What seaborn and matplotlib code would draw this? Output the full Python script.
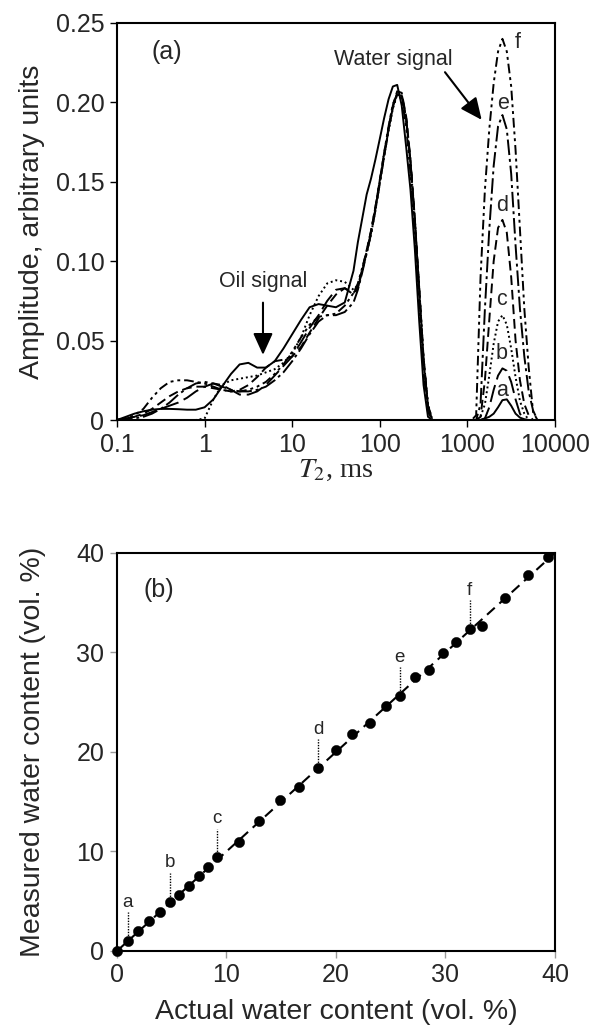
import numpy as np
import pandas as pd
import matplotlib
matplotlib.use("Agg")
import matplotlib.pyplot as plt
import seaborn as sns

# ---------------- data: (a) T2 distributions ----------------
t2_ms = [0.1, 0.126, 0.158, 0.2, 0.251, 0.316, 0.398, 0.501, 0.631, 0.794,
         1.0, 1.26, 1.58, 2.0, 2.51, 3.16, 3.98, 5.01, 6.31, 7.94,
         10, 12.6, 15.8, 20, 25.1, 31.6, 39.8, 50.1,
         56.2, 63.1, 70.8, 79.4, 89.1, 100, 112, 126, 141, 158, 178, 200,
         224, 251, 282, 316, 355, 398,
         1000, 1122, 1259, 1413, 1585, 1778, 1995, 2239, 2512, 2818, 3162,
         3548, 3981, 4467, 5012, 5623, 6310, 10000]

amp_a = [0.000, 0.002, 0.004, 0.0055, 0.0065, 0.007, 0.007, 0.0068, 0.0065, 0.0065,
         0.008, 0.013, 0.021, 0.029, 0.035, 0.036, 0.033, 0.033, 0.037, 0.045,
         0.054, 0.063, 0.071, 0.073, 0.072, 0.071, 0.074, 0.094,
         0.112, 0.127, 0.142, 0.152, 0.164, 0.177, 0.190, 0.202, 0.210, 0.211, 0.198, 0.172,
         0.145, 0.108, 0.062, 0.022, 0.002, 0.0,
         0.0, 0.0, 0.0, 0.0, 0.001, 0.002, 0.004, 0.008, 0.0125, 0.013, 0.009,
         0.004, 0.0015, 0.0005, 0.0, 0.0, 0.0, 0.0]

amp_b = [0.000, 0.001, 0.002, 0.003, 0.005, 0.007, 0.009, 0.011, 0.014, 0.018,
         0.021, 0.023, 0.022, 0.019, 0.016, 0.016, 0.018, 0.022, 0.028, 0.034,
         0.040, 0.049, 0.058, 0.066, 0.075, 0.082, 0.083, 0.079,
         0.083, 0.094, 0.106, 0.118, 0.133, 0.150, 0.166, 0.183, 0.197, 0.206, 0.205, 0.190,
         0.163, 0.126, 0.082, 0.038, 0.009, 0.0,
         0.0, 0.0, 0.0, 0.0, 0.001, 0.008, 0.019, 0.028, 0.0325, 0.031, 0.024,
         0.013, 0.004, 0.0, 0.0, 0.0, 0.0, 0.0]

amp_c = [0.0, 0.0, 0.0, 0.0, 0.0, 0.0, 0.0, 0.0, 0.0, 0.0,
         0.001, 0.013, 0.022, 0.025, 0.026, 0.027, 0.028, 0.030, 0.032, 0.036,
         0.042, 0.052, 0.066, 0.078, 0.086, 0.088, 0.087, 0.082,
         0.085, 0.094, 0.105, 0.117, 0.132, 0.149, 0.166, 0.182, 0.196, 0.205, 0.204, 0.189,
         0.162, 0.126, 0.083, 0.039, 0.010, 0.0,
         0.0, 0.0, 0.0, 0.002, 0.010, 0.028, 0.048, 0.062, 0.066, 0.060, 0.045,
         0.027, 0.012, 0.004, 0.0, 0.0, 0.0, 0.0]

amp_d = [0.000, 0.001, 0.002, 0.004, 0.007, 0.011, 0.015, 0.018, 0.020, 0.021,
         0.021, 0.020, 0.019, 0.018, 0.019, 0.022, 0.027, 0.033, 0.037, 0.038,
         0.040, 0.046, 0.055, 0.064, 0.072, 0.079, 0.083, 0.080,
         0.084, 0.095, 0.107, 0.119, 0.134, 0.151, 0.168, 0.184, 0.198, 0.207, 0.206, 0.191,
         0.164, 0.127, 0.083, 0.039, 0.009, 0.0,
         0.0, 0.0, 0.0, 0.002, 0.025, 0.063, 0.100, 0.121, 0.126, 0.118, 0.090,
         0.050, 0.025, 0.010, 0.003, 0.0, 0.0, 0.0]

amp_e = [0.000, 0.0005, 0.001, 0.002, 0.004, 0.007, 0.011, 0.016, 0.020, 0.023,
         0.024, 0.023, 0.021, 0.019, 0.018, 0.018, 0.019, 0.021, 0.025, 0.030,
         0.037, 0.045, 0.054, 0.062, 0.066, 0.066, 0.068, 0.074,
         0.082, 0.093, 0.105, 0.117, 0.132, 0.149, 0.166, 0.183, 0.197, 0.205, 0.204, 0.190,
         0.162, 0.126, 0.081, 0.037, 0.008, 0.0,
         0.0, 0.0, 0.0, 0.010, 0.070, 0.120, 0.160, 0.185, 0.192, 0.183, 0.155,
         0.110, 0.070, 0.040, 0.018, 0.006, 0.0, 0.0]

amp_f = [0.000, 0.001, 0.003, 0.007, 0.014, 0.020, 0.024, 0.025, 0.025, 0.024,
         0.023, 0.021, 0.019, 0.018, 0.018, 0.019, 0.021, 0.024, 0.029, 0.035,
         0.043, 0.052, 0.060, 0.065, 0.066, 0.067, 0.072, 0.080,
         0.086, 0.096, 0.106, 0.119, 0.134, 0.151, 0.168, 0.185, 0.199, 0.205, 0.202, 0.185,
         0.155, 0.118, 0.072, 0.030, 0.005, 0.0,
         0.0, 0.0, 0.003, 0.090, 0.145, 0.183, 0.212, 0.232, 0.240, 0.232, 0.210,
         0.170, 0.120, 0.070, 0.033, 0.005, 0.0, 0.0]

curve_ids = ["a", "b", "c", "d", "e", "f"]
curve_amps = [amp_a, amp_b, amp_c, amp_d, amp_e, amp_f]
curve_styles = ["-", (0, (9, 3)), (0, (1, 1.5)), (0, (5, 2.5)),
                (0, (8, 2, 1.5, 2)), (0, (5, 2, 1.5, 2, 1.5, 2))]
peak_labels = ["a", "b", "c", "d", "e", "f"]
peak_label_x = [2460, 2460, 2460, 2460, 2530, 3800]
peak_label_y = [0.0185, 0.042, 0.0756, 0.135, 0.1996, 0.2374]

# ---------------- data: (b) measured vs actual ----------------
actual = [0, 1.0, 1.9, 2.9, 3.9, 4.8, 5.7, 6.6, 7.5, 8.3, 9.1, 11.1, 13.0, 14.9,
          16.6, 18.4, 20.0, 21.5, 23.1, 24.6, 25.8, 27.2, 28.5, 29.8, 31.0, 32.2,
          33.3, 35.4, 37.5, 39.4]
measured = [0, 1.0, 2.0, 3.05, 3.9, 4.95, 5.6, 6.5, 7.5, 8.45, 9.4, 11.0, 13.1, 15.2,
            16.5, 18.4, 20.2, 21.8, 22.9, 24.6, 25.6, 27.5, 28.2, 29.9, 31.05, 32.35,
            32.7, 35.5, 37.8, 39.6]
marked_idx = [1, 5, 10, 15, 20, 25]
marked_txt = ["a", "b", "c", "d", "e", "f"]
parity_x = [0, 40]
parity_y = [0, 40]

# ---------------- style ----------------
sns.set_theme(style="white")
plt.rcParams["font.family"] = ["Liberation Sans", "DejaVu Sans"]
plt.rcParams["mathtext.fontset"] = "stix"
TICK_FS = 18
LABEL_FS = 20.5
NOTE_FS = 15.5

fig = plt.figure(figsize=(5.93, 10.34), dpi=100)
ax1 = fig.add_axes([0.1973, 0.5938, 0.7386, 0.3840])
ax2 = fig.add_axes([0.1973, 0.0803, 0.7386, 0.3849])

arrow_kw = dict(arrowstyle="-|>,head_length=1.1,head_width=0.5",
                color="black", lw=1.5, shrinkA=0, shrinkB=0)

# ---------------- panel (a) ----------------
for cid, amps, ls in zip(curve_ids, curve_amps, curve_styles):
    df = pd.DataFrame({"T2": t2_ms, "amp": amps})
    sns.lineplot(data=df, x="T2", y="amp", ax=ax1, color="black",
                 linewidth=1.4, linestyle=ls, sort=False, estimator=None)

ax1.set_xscale("log")
ax1.set_xlim(0.1, 10000)
ax1.set_ylim(0, 0.25)
ax1.set_xticks([0.1, 1, 10, 100, 1000, 10000])
ax1.set_xticklabels(["0.1", "1", "10", "100", "1000", "10000"])
ax1.xaxis.set_minor_locator(matplotlib.ticker.NullLocator())
ax1.set_yticks([0, 0.05, 0.10, 0.15, 0.20, 0.25])
ax1.set_yticklabels(["0", "0.05", "0.10", "0.15", "0.20", "0.25"])
ax1.set_xlabel(r"$T_2$, ms", fontsize=LABEL_FS, family="Liberation Serif", labelpad=1)
ax1.set_ylabel("Amplitude, arbitrary units", fontsize=LABEL_FS, labelpad=8)

for lab, lx, ly in zip(peak_labels, peak_label_x, peak_label_y):
    ax1.text(lx, ly, lab, fontsize=NOTE_FS, ha="center", va="center")

ax1.text(0.25, 0.2315, "(a)", fontsize=TICK_FS, ha="left", va="center")
ax1.text(141, 0.2267, "Water signal", fontsize=NOTE_FS, ha="center", va="center")
ax1.annotate("", xy=(1455, 0.189), xytext=(555, 0.219), arrowprops=arrow_kw)
ax1.text(4.64, 0.0869, "Oil signal", fontsize=NOTE_FS, ha="center", va="center")
ax1.annotate("", xy=(4.64, 0.041), xytext=(4.64, 0.0739), arrowprops=arrow_kw)

# ---------------- panel (b) ----------------
sns.lineplot(x=parity_x, y=parity_y, ax=ax2, color="black", linewidth=1.5,
             linestyle=(0, (5, 3)))
sns.scatterplot(x=actual, y=measured, ax=ax2, color="black", s=55,
                edgecolor="black", linewidth=0.3, zorder=3, clip_on=False)
for i, t in zip(marked_idx, marked_txt):
    ax2.plot([actual[i], actual[i]], [measured[i], measured[i] + 2.9],
             color="black", linestyle=(0, (1, 1)), linewidth=1.0)
    ax2.text(actual[i], measured[i] + 3.9, t, fontsize=13.5,
             ha="center", va="center")

ax2.set_xlim(0, 40)
ax2.set_ylim(0, 40)
ax2.set_xticks([0, 10, 20, 30, 40])
ax2.set_yticks([0, 10, 20, 30, 40])
ax2.set_xlabel("Actual water content (vol. %)", fontsize=LABEL_FS, labelpad=8)
ax2.set_ylabel("Measured water content (vol. %)", fontsize=LABEL_FS, labelpad=22)
ax2.text(2.4, 36.3, "(b)", fontsize=TICK_FS, ha="left", va="center")

for ax in (ax1, ax2):
    for sp in ax.spines.values():
        sp.set_color("black")
        sp.set_linewidth(1.5)
    ax.tick_params(axis="both", which="major", direction="out", length=5,
                   width=1.0, color="black", labelsize=TICK_FS, pad=4,
                   left=True, bottom=True)
ax2.tick_params(color="#999999")

fig.savefig("out.png", dpi=100, facecolor="white")
